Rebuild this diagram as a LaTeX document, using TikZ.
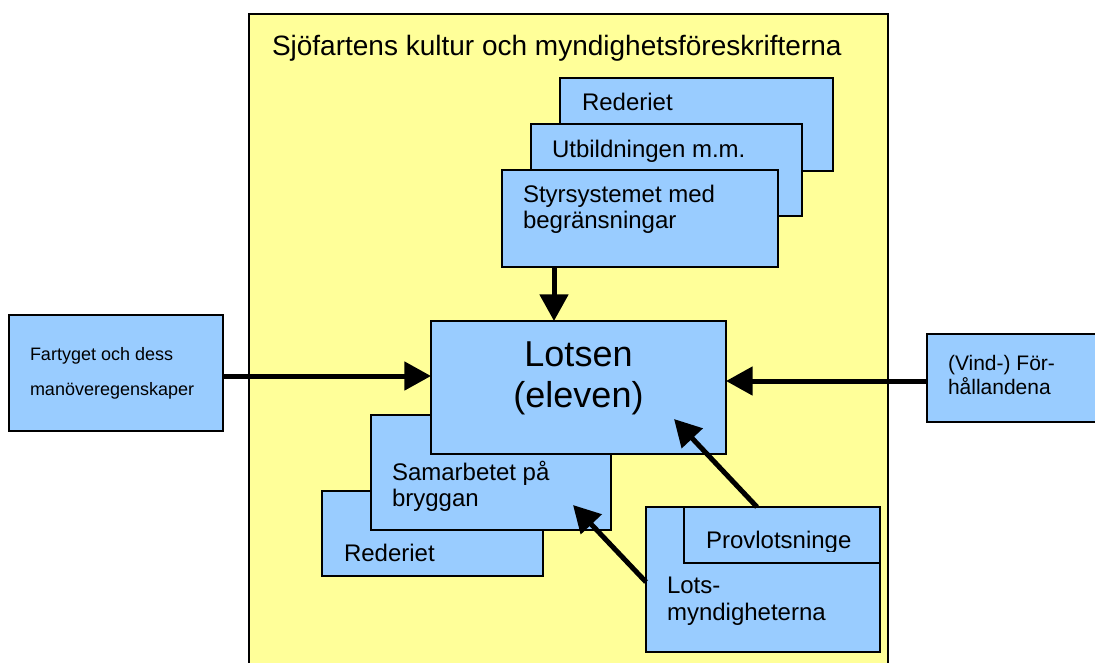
\documentclass[tikz,border=0pt]{standalone}
\usepackage{fontspec}
\setmainfont{Liberation Sans}
\usetikzlibrary{arrows.meta}
\definecolor{yel}{RGB}{255,255,153}
\definecolor{blu}{RGB}{153,204,255}
\tikzset{
  box/.style={draw=black, line width=1.5pt, fill=blu, inner sep=0pt, outer sep=0pt, anchor=north west},
  lbl/.style={inner sep=0pt, outer sep=0pt, anchor=base west},
  ftitle/.style={font=\fontsize{21pt}{25pt}\selectfont},
  fbig/.style={font=\fontsize{27pt}{31pt}\selectfont},
  fmid/.style={font=\fontsize{18pt}{21pt}\selectfont},
  fvind/.style={font=\fontsize{15.75pt}{19pt}\selectfont},
  fsmall/.style={font=\fontsize{13.5pt}{16pt}\selectfont},
  arr/.style={line width=3.75pt, -{Triangle[length=20pt, width=21pt]}},
}
\newcommand\bx[5]{\node[box, minimum width={(#4-#2)*0.75pt}, minimum height={(#5-#3)*0.75pt}] (#1) at (#2,#3) {};}
\begin{document}
\begin{tikzpicture}[x=0.75pt, y=-0.75pt]
\clip (0,0) rectangle (1095,662);
% background frame
\path[fill=white] (0,0) rectangle (1095,662);
\node[box, fill=yel, minimum width={(888-249)*0.75pt}, minimum height={(700-14)*0.75pt}] (frame) at (249,14) {};
\node[lbl, ftitle] (title) at (272,55) {Sjöfartens kultur och myndighetsföreskrifterna};
% upper stack
\bx{red1}{560}{78}{833}{171}
\node[lbl, fmid] (red1t) at (582,110) {Rederiet};
\bx{utb}{531}{124}{802}{216}
\node[lbl, fmid] (utbt) at (552,157) {Utbildningen m.m.};
\bx{styr}{502}{170}{778}{267}
\node[lbl, fmid] (styrt1) at (523,202) {Styrsystemet med};
\node[lbl, fmid] (styrt2) at (523,228) {begränsningar};
% lower-left stack
\bx{red2}{322}{491}{543}{576}
\node[lbl, fmid] (red2t) at (344,561) {Rederiet};
\bx{sam}{371}{415}{611}{530}
\node[lbl, fmid] (samt1) at (392,480) {Samarbetet på};
\node[lbl, fmid] (samt2) at (392,506) {bryggan};
% center
\bx{lotsen}{431}{321}{726}{454}
\node[inner sep=0pt, anchor=base, fbig] (lotsent1) at (578.5,366) {Lotsen};
\node[inner sep=0pt, anchor=base, fbig] (lotsent2) at (578.5,407) {(eleven)};
% lower right
\bx{lots}{646}{507}{880}{652}
\bx{prov}{684}{507}{880}{563}
\begin{scope}
\clip (684,507) rectangle (880,551);
\node[lbl, fmid] (provt) at (706,548) {Provlotsninge};
\end{scope}
\node[lbl, fmid] (lotst1) at (667,593) {Lots-};
\node[lbl, fmid] (lotst2) at (667,620) {myndigheterna};
% outside boxes
\bx{fart}{9}{315}{223}{431}
\node[lbl, fsmall] (fartt1) at (30,360) {Fartyget och dess};
\node[lbl, fsmall] (fartt2) at (30,395) {manöveregenskaper};
\bx{vind}{927}{334}{1120}{422}
\node[lbl, fvind] (vindt1) at (948,370) {(Vind-) För-};
\node[lbl, fvind] (vindt2) at (948,394) {hållandena};
% arrows
\draw[arr] ([xshift=39pt]styr.south west) -- ([xshift=92.25pt]lotsen.north west);
\draw[arr] ([yshift=-2.25pt]fart.east) coordinate (a1) -- (a1 -| lotsen.west);
\draw[arr] ([yshift=-2.25pt]vind.west) coordinate (a2) -- (a2 -| lotsen.east);
\draw[arr] ([yshift=-56.25pt]lots.north west) -- ([xshift=-28.5pt, yshift=18.75pt]sam.south east);
\draw[arr] ([xshift=83.25pt]lots.north west) -- ([xshift=-39pt, yshift=26.25pt]lotsen.south east);
\end{tikzpicture}
\end{document}
